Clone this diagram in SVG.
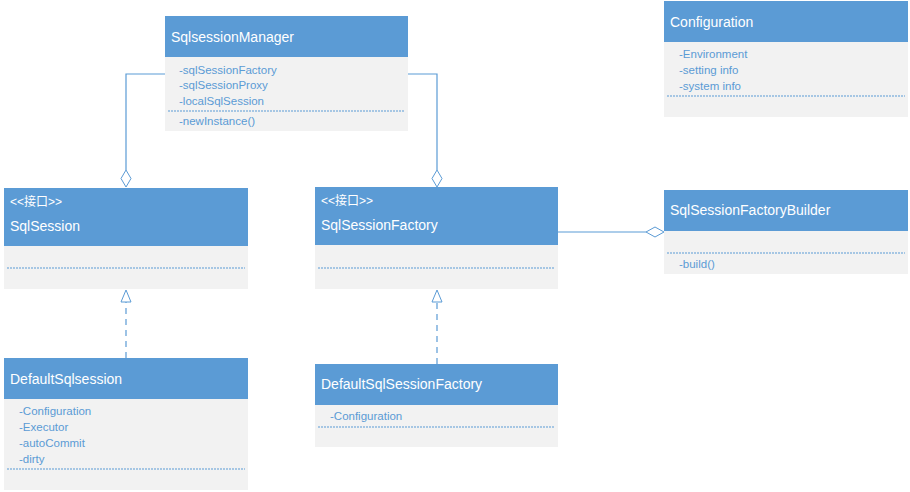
<svg xmlns="http://www.w3.org/2000/svg" width="910" height="492" viewBox="0 0 910 492">
<style>
.hd{fill:#5B9BD5;}
.bd{fill:#F2F2F2;}
.t{font-family:"Liberation Sans",Arial,sans-serif;font-size:14px;fill:#FFFFFF;}
.s{font-family:"Liberation Sans","Noto Sans CJK SC",sans-serif;font-size:12px;fill:#FFFFFF;}
.a{font-family:"Liberation Sans",Arial,sans-serif;font-size:11.5px;fill:#5B9BD5;}
.dl{stroke:#5B9BD5;stroke-width:1;stroke-dasharray:2 1;fill:none;}
.ln{stroke:#5B9BD5;stroke-width:1.2;fill:none;}
.dash{stroke:#5B9BD5;stroke-width:1.2;fill:none;stroke-dasharray:6 5;}
.dia{fill:#FFFFFF;stroke:#5B9BD5;stroke-width:1;}
</style>
<rect width="910" height="492" fill="#FFFFFF"/>
<g id="connectors">
<polyline class="ln" points="165,74 126,74 126,170"/>
<polygon class="dia" points="126,170 131,178.5 126,187 121,178.5"/>
<polyline class="ln" points="408,74 437,74 437,170"/>
<polygon class="dia" points="437,170 442,178.5 437,187 432,178.5"/>
<line class="ln" x1="558" y1="232" x2="646" y2="232"/>
<polygon class="dia" points="646,232 655,227 664,232 655,237"/>
<line class="dash" x1="126" y1="358" x2="126" y2="302"/>
<polygon class="dia" points="126,290 131,302 121,302"/>
<line class="dash" x1="437" y1="364" x2="437" y2="302"/>
<polygon class="dia" points="437,290 442,302 432,302"/>
</g>
<g id="SqlsessionManager">
<rect class="bd" x="165" y="57" width="243" height="74"/>
<rect class="hd" x="165" y="16" width="243" height="41"/>
<text class="t" x="171" y="42">SqlsessionManager</text>
<text class="a" x="179" y="74">-sqlSessionFactory</text>
<text class="a" x="179" y="89">-sqlSessionProxy</text>
<text class="a" x="179" y="105">-localSqlSession</text>
<line class="dl" x1="168" y1="111" x2="405" y2="111"/>
<text class="a" x="179" y="125">-newInstance()</text>
</g>
<g id="Configuration">
<rect class="bd" x="664" y="42" width="244" height="75"/>
<rect class="hd" x="664" y="1" width="244" height="41"/>
<text class="t" x="670" y="27">Configuration</text>
<text class="a" x="679" y="58">-Environment</text>
<text class="a" x="679" y="74">-setting info</text>
<text class="a" x="679" y="90">-system info</text>
<line class="dl" x1="667" y1="96" x2="905" y2="96"/>
</g>
<g id="SqlSession">
<rect class="bd" x="4" y="246" width="244" height="43"/>
<rect class="hd" x="4" y="188" width="244" height="58"/>
<text class="s" x="10" y="206">&lt;&lt;接口&gt;&gt;</text>
<text class="t" x="10" y="231">SqlSession</text>
<line class="dl" x1="7" y1="268" x2="245" y2="268"/>
</g>
<g id="SqlSessionFactory">
<rect class="bd" x="315" y="245" width="243" height="44"/>
<rect class="hd" x="315" y="187" width="243" height="58"/>
<text class="s" x="321" y="205">&lt;&lt;接口&gt;&gt;</text>
<text class="t" x="321" y="230">SqlSessionFactory</text>
<line class="dl" x1="318" y1="268" x2="555" y2="268"/>
</g>
<g id="SqlSessionFactoryBuilder">
<rect class="bd" x="664" y="231" width="244" height="43"/>
<rect class="hd" x="664" y="190" width="244" height="41"/>
<text class="t" x="670" y="215">SqlSessionFactoryBuilder</text>
<line class="dl" x1="667" y1="253" x2="905" y2="253"/>
<text class="a" x="679" y="268">-build()</text>
</g>
<g id="DefaultSqlsession">
<rect class="bd" x="4" y="399" width="244" height="91"/>
<rect class="hd" x="4" y="358" width="244" height="41"/>
<text class="t" x="10" y="384">DefaultSqlsession</text>
<text class="a" x="19" y="415">-Configuration</text>
<text class="a" x="19" y="431">-Executor</text>
<text class="a" x="19" y="447">-autoCommit</text>
<text class="a" x="19" y="463">-dirty</text>
<line class="dl" x1="7" y1="469" x2="245" y2="469"/>
</g>
<g id="DefaultSqlSessionFactory">
<rect class="bd" x="315" y="405" width="243" height="42"/>
<rect class="hd" x="315" y="364" width="243" height="41"/>
<text class="t" x="321" y="389">DefaultSqlSessionFactory</text>
<text class="a" x="330" y="420">-Configuration</text>
<line class="dl" x1="318" y1="427" x2="555" y2="427"/>
</g>
</svg>
